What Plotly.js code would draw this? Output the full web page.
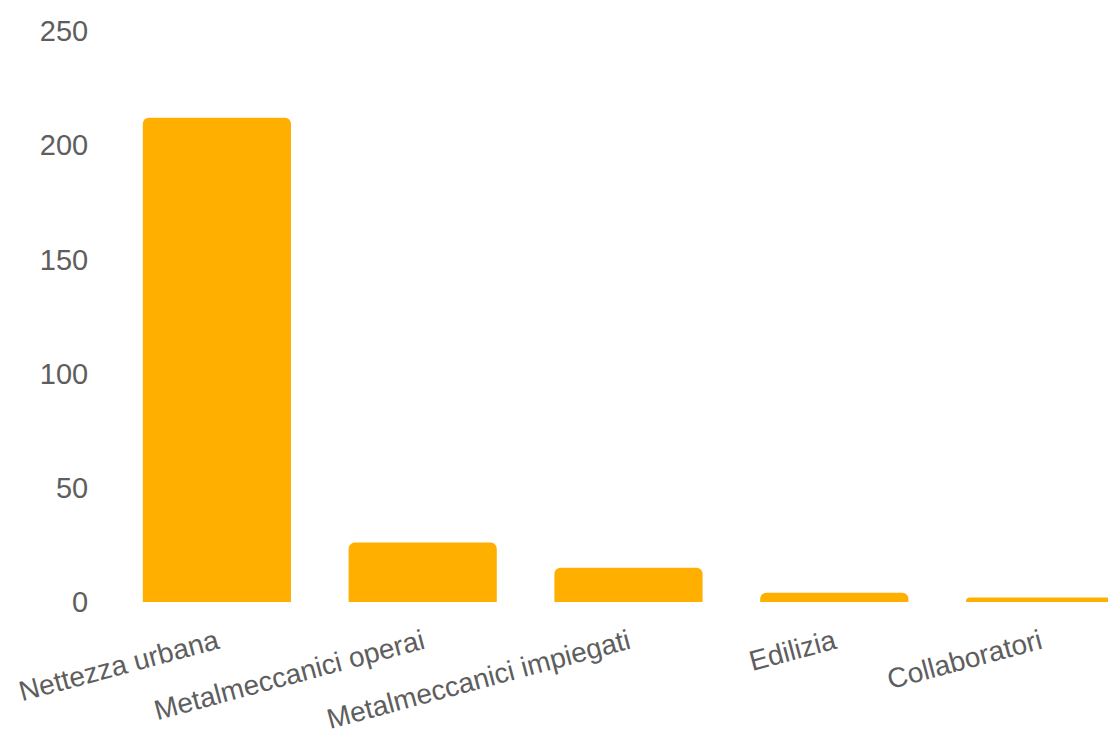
<!DOCTYPE html>
<html>
<head>
<meta charset="utf-8">
<script src="https://cdn.plot.ly/plotly-3.0.1.min.js"></script>
<style>html,body{margin:0;padding:0;background:#fff;}#chart{width:1108px;height:737px;}</style>
</head>
<body>
<div id="chart"></div>
<script>
var categories = ["Nettezza urbana", "Metalmeccanici operai", "Metalmeccanici impiegati", "Edilizia", "Collaboratori"];
var values = [212, 26, 15, 4, 2];
var yTicks = [0, 50, 100, 150, 200, 250];

var trace = {
  type: "bar",
  x: categories,
  y: values,
  marker: {color: "#FFAF00", cornerradius: 6},
  hoverinfo: "x+y"
};

var layout = {
  width: 1108,
  height: 737,
  margin: {l: 114, r: 0, t: 31, b: 135},
  paper_bgcolor: "#ffffff",
  plot_bgcolor: "#ffffff",
  bargap: 0.28,
  showlegend: false,
  font: {family: "Liberation Sans, Arial, sans-serif", color: "#5e5e5e", size: 28},
  xaxis: {
    range: [-0.5, 4.33],
    tickangle: -15,
    showgrid: false,
    showline: false,
    zeroline: false,
    ticks: "outside",
    ticklen: 12,
    tickcolor: "rgba(0,0,0,0)",
    tickfont: {size: 28, color: "#5e5e5e"}
  },
  yaxis: {
    range: [0, 250],
    tickvals: yTicks,
    ticktext: yTicks.map(String),
    showgrid: false,
    showline: false,
    zeroline: false,
    ticks: "outside",
    ticklen: 19,
    tickcolor: "rgba(0,0,0,0)",
    tickfont: {size: 29, color: "#5e5e5e"}
  }
};

Plotly.newPlot("chart", [trace], layout, {displayModeBar: false, staticPlot: true});
</script>
</body>
</html>
